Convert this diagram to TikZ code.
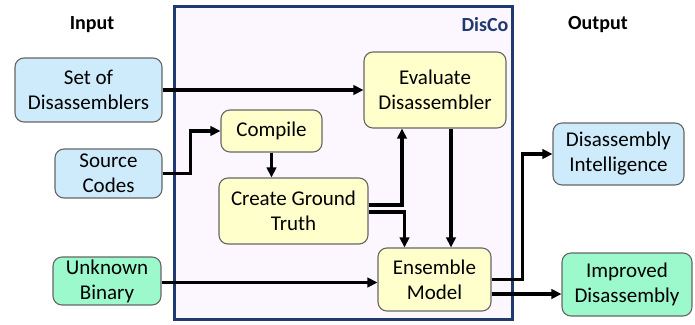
\documentclass[tikz,border=0pt]{standalone}
\usepackage{fontspec}
\setmainfont{Carlito}
\usetikzlibrary{arrows.meta}
\definecolor{navy}{HTML}{1F3A6E}
\definecolor{framefill}{HTML}{FBF6FF}
\definecolor{bluefill}{HTML}{CDEBFB}
\definecolor{yellowfill}{HTML}{FFFFCC}
\definecolor{greenfill}{HTML}{9CF9CC}
\definecolor{boxline}{HTML}{666666}
\begin{document}
\begin{tikzpicture}[x=1pt,y=-1pt,
  box/.style={draw=boxline, line width=1.1pt, rounded corners=9pt, align=center,
    inner sep=0pt, font=\fontsize{21pt}{25pt}\selectfont},
  inbox/.style={box, fill=bluefill},
  procbox/.style={box, fill=yellowfill},
  greenbox/.style={box, fill=greenfill},
  heading/.style={font=\fontsize{20pt}{24pt}\selectfont\bfseries, inner sep=0pt},
  arr/.style={line width=3.2pt, -{Triangle[length=10pt,width=9.5pt]}}
]
\useasboundingbox (0,0) rectangle (695,324);
\node[draw=navy, line width=3pt, fill=framefill, minimum width=338pt, minimum height=313pt, inner sep=0pt] (frame) at (343,162.5) {};
\node[heading, text=navy] (disco) at (485,25) {DisCo};
\node[heading] (input) at (92,25) {Input};
\node[heading] (output) at (598,25) {Output};

\node[inbox, minimum width=147pt, minimum height=64pt] (set) at (88.5,90) {Set of\\Disassemblers};
\node[inbox, minimum width=107pt, minimum height=49pt] (src) at (108.5,173.5) {Source\\Codes};
\node[greenbox, minimum width=108pt, minimum height=48pt] (unk) at (107,281) {Unknown\\Binary};

\node[procbox, minimum width=101pt, minimum height=42pt] (comp) at (271.5,131) {Compile};
\node[procbox, minimum width=149pt, minimum height=66pt] (cgt) at (293.5,211) {Create Ground\\Truth};
\node[procbox, minimum width=142pt, minimum height=76pt] (eval) at (435,90) {Evaluate\\Disassembler};
\node[procbox, minimum width=113pt, minimum height=63pt] (ens) at (434.5,279.5) {Ensemble\\Model};

\node[inbox, minimum width=131pt, minimum height=62pt] (di) at (618.5,154) {Disassembly\\Intelligence};
\node[greenbox, minimum width=130pt, minimum height=63pt] (id) at (627,284.5) {Improved\\Disassembly};

\draw[arr] (set.east) -- (set.east -| eval.west);
\draw[arr] (src.east) -- ++(28,0) |- (comp.west);
\draw[arr] (comp.south) -- (comp.south |- cgt.north);
\draw[arr] ([yshift=6pt]cgt.east) -| ([xshift=-33pt]eval.south);
\draw[arr] ([yshift=-1pt]cgt.east) -| ([xshift=-30pt]ens.north);
\draw[arr] ([xshift=16pt]eval.south) -- ([xshift=16pt]eval.south |- ens.north);
\draw[arr] ([yshift=-1.5pt]unk.east) -- ([yshift=-1.5pt]unk.east -| ens.west);
\draw[arr] (ens.east) -- ++(31,0) |- (di.west);
\draw[arr] ([yshift=-14.5pt]ens.east) -- ([yshift=-14.5pt]ens.east -| id.west);
\end{tikzpicture}
\end{document}
